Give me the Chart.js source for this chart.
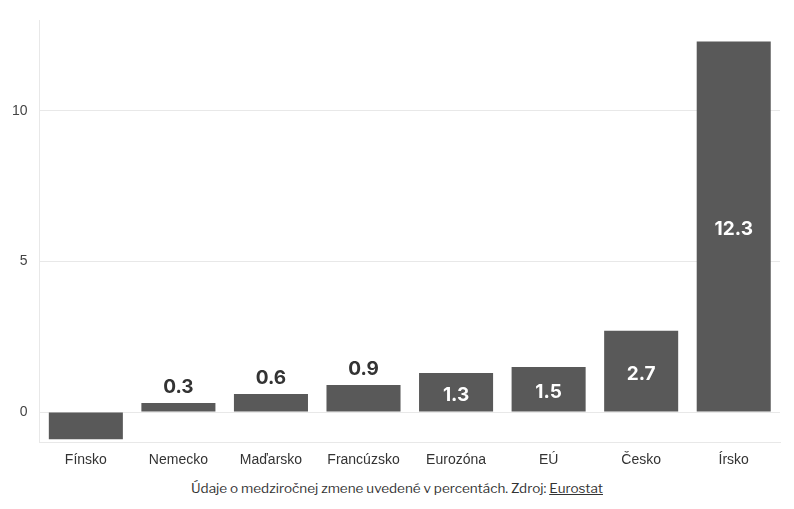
<!DOCTYPE html>
<html><head><meta charset="utf-8">
<script src="https://cdn.jsdelivr.net/npm/chart.js@4"></script>
<style>
body{margin:0;background:#fff;font-family:"Libre Franklin","Inter","Noto Sans",sans-serif;}
#wrap{position:relative;width:794px;height:509px;}
#foot{position:absolute;left:0;width:794px;top:480px;text-align:center;font-size:13.5px;color:#333;}
#foot u{color:#333}
</style></head><body>
<div id="wrap"><canvas id="c" width="794" height="475"></canvas>
<div id="foot">Údaje o medziročnej zmene uvedené v percentách. Zdroj: <u>Eurostat</u></div></div>
<script>
const categories=["Fínsko","Nemecko","Maďarsko","Francúzsko","Eurozóna","EÚ","Česko","Írsko"];
const values=[-0.9,0.3,0.6,0.9,1.3,1.5,2.7,12.3];
const labels=[null,"0.3","0.6","0.9","1.3","1.5","2.7","12.3"];
const tickValues=[0,5,10];
const lbl={id:'lbl',afterDatasetsDraw(ch){const ctx=ch.ctx;const m=ch.getDatasetMeta(0);
ctx.save();ctx.font='bold 19px Inter, "Noto Sans", sans-serif';ctx.textAlign='center';ctx.textBaseline='middle';
m.data.forEach((b,i)=>{if(!labels[i])return;const v=values[i];
if(v>=1.2){ctx.fillStyle='#fff';ctx.fillText(labels[i],b.x,(b.y+b.base)/2+3);}
else{ctx.fillStyle='#333';ctx.fillText(labels[i],b.x,b.y-16);}});ctx.restore();}};
new Chart(document.getElementById('c'),{type:'bar',
data:{labels:categories,datasets:[{data:values,backgroundColor:'#595959',barPercentage:0.8,categoryPercentage:1}]},
options:{responsive:false,animation:false,layout:{padding:{left:0,right:14,top:14,bottom:4}},
plugins:{legend:{display:false},tooltip:{enabled:false}},
scales:{y:{min:-1,max:13,afterBuildTicks(s){s.ticks=tickValues.map(v=>({value:v}));},
grid:{color:'#e8e8e8',drawTicks:false},border:{color:'#e8e8e8'},
ticks:{color:'#444',font:{size:14},padding:12}},
x:{grid:{display:false},border:{color:'#e8e8e8'},ticks:{color:'#333',font:{size:14},padding:2}}}},
plugins:[lbl]});
</script></body></html>
